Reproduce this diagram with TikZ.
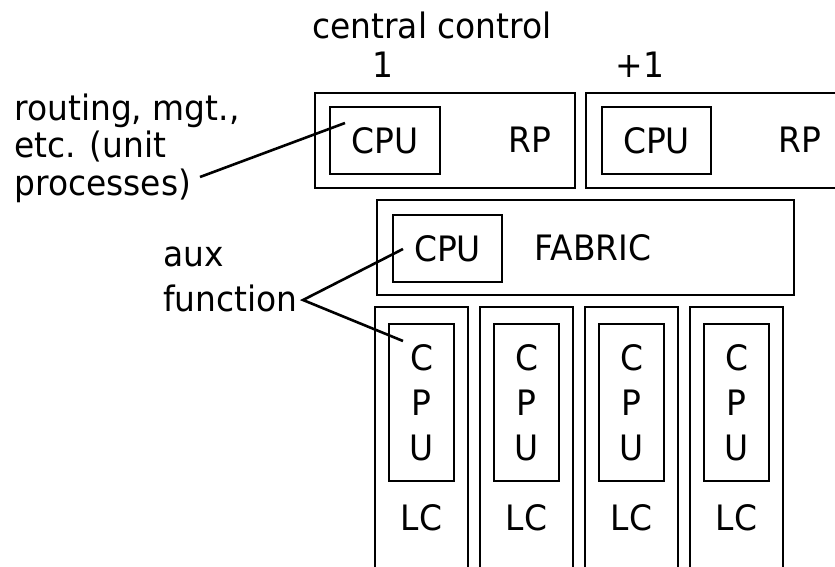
\documentclass[tikz,border=0pt]{standalone}
\usepackage{fontspec}
\setmainfont[FakeStretch=0.94]{DejaVu Sans}
\usepackage{tikz}

\tikzset{
	box/.style={draw, line width=2.8pt, inner sep=0pt},
	lbl/.style={inner sep=0pt, font=\fontsize{35}{37.5}\selectfont},
}

\begin{document}
\begin{tikzpicture}[x=1pt,y=-1pt,line width=2.6pt]
	\clip (0,0) rectangle (835,566);
	% top labels
	\node[lbl] (cc) at (432,25) {central control};
	\node[lbl] (one) at (383,65) {1};
	\node[lbl] (plusone) at (640,65) {+1};
	
	% route processors
	\node[box, minimum width=260pt, minimum height=95pt] (rp1) at (445,140.5) {};
	\node[box, lbl, draw, minimum width=110pt, minimum height=67pt] (cpu1) at (385,140.5) {CPU};
	\node[lbl] (rp1t) at (530,140) {RP};
	\node[box, minimum width=260pt, minimum height=95pt] (rp2) at (716,140.5) {};
	\node[box, lbl, draw, minimum width=109pt, minimum height=67pt] (cpu2) at (656.5,140.5) {CPU};
	\node[lbl] (rp2t) at (800,140) {RP};
	
	% fabric
	\node[box, minimum width=417pt, minimum height=95pt] (fab) at (585.5,247.5) {};
	\node[box, lbl, draw, minimum width=109pt, minimum height=67pt] (fcpu) at (447.5,248.5) {CPU};
	\node[lbl] (fabt) at (593,248) {FABRIC};
	
	% line cards
	\foreach \x [count=\i] in {421.5,526.5,631.5,736.5} {
		\node[box, minimum width=93pt, minimum height=263pt] (lc\i) at (\x,438.5) {};
		\node[box, lbl, draw, align=center, minimum width=65pt, minimum height=157pt,
			font=\fontsize{35}{45}\selectfont] (lccpu\i) at (\x,402.5) {C\\P\\U};
		\node[lbl] (lct\i) at (\x,518) {LC};
	}
	
	% side labels (base = last line)
	\node[lbl, anchor=base west, align=left] (route) at (13,195) {routing, mgt.,\\etc. (unit\\processes)};
	\node[lbl, anchor=base west, align=left, font=\fontsize{35}{45}\selectfont] (aux) at (162,311) {aux\\function};
	
	\coordinate (routeend) at (200,177);
	\coordinate (cpuend) at (345,123);
	\coordinate (auxtip) at (303,300);
	\coordinate (fabend) at (403,249);
	\coordinate (lcend) at (403,341);
	\draw (routeend) -- (cpuend);
	\draw (fabend) -- (auxtip) -- (lcend);
\end{tikzpicture}
\end{document}
